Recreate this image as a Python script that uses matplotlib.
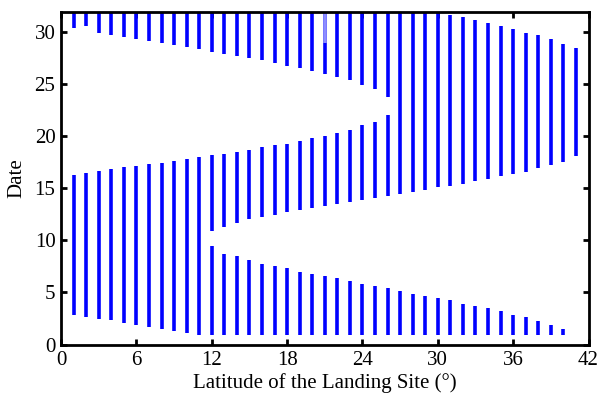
import numpy as np
import matplotlib.pyplot as plt

plt.rcParams['font.family'] = ['Liberation Serif', 'DejaVu Serif']

lat = np.arange(1, 42)

# upper window: runs from top_hi down to top_lo (lat 1..26 separate from middle)
top_hi_a = 32.0
top_lo_a = [30.42, 30.64, 29.94, 29.78, 29.59, 29.39, 29.17, 28.94, 28.75, 28.60,
            28.40, 28.14, 27.95, 27.73, 27.57, 27.34, 27.09, 26.80, 26.60, 26.30,
            25.96, 25.71, 25.42, 24.94, 24.56, 23.82]

# middle window for every latitude (lat 27+ merged with the upper one)
mid_hi = [16.32, 16.48, 16.63, 16.83, 17.02, 17.18, 17.31, 17.44, 17.63, 17.86,
          18.05, 18.17, 18.34, 18.53, 18.72, 18.98, 19.13, 19.30, 19.52, 19.88,
          20.07, 20.33, 20.64, 21.06, 21.38, 22.09, 32.00, 32.00, 32.00, 32.00,
          31.67, 31.44, 31.15, 30.87, 30.64, 30.36, 29.97, 29.71, 29.33, 28.88,
          28.50]
mid_lo = [2.83, 2.66, 2.50, 2.31, 2.09, 1.89, 1.70, 1.51, 1.32, 1.12,
          0.90, 10.93, 11.29, 11.70, 12.02, 12.21, 12.47, 12.69, 12.92, 13.11,
          13.30, 13.50, 13.72, 13.91, 14.10, 14.30, 14.49, 14.68, 14.88, 15.10,
          15.27, 15.46, 15.69, 15.93, 16.17, 16.37, 16.62, 16.96, 17.25, 17.50,
          18.08]

# lower window, from lat 12 to 40
low_lat = np.arange(12, 41)
low_hi = [9.42, 8.72, 8.46, 8.11, 7.76, 7.54, 7.31, 6.99, 6.77, 6.54,
          6.35, 6.06, 5.81, 5.62, 5.42, 5.19, 4.90, 4.68, 4.49, 4.27,
          3.94, 3.72, 3.50, 3.21, 2.83, 2.60, 2.28, 1.83, 1.51]
low_lo = 0.9

# faint overlap at lat 21
faint_lat = 21
faint_range = (29.0, 32.0)

fig = plt.figure(figsize=(6.09, 3.97), dpi=100)
ax = fig.add_axes([0.1002, 0.1322, 0.8662, 0.8388])

blue = '#0000ff'
lw = 2.6
ax.vlines(lat[:len(top_lo_a)], top_lo_a, top_hi_a, color=blue, lw=lw)
ax.vlines(faint_lat, *faint_range, color='#8c8cff', lw=lw)
ax.vlines(lat, mid_lo, mid_hi, color=blue, lw=lw)
ax.vlines(low_lat, low_lo, low_hi, color=blue, lw=lw)

ax.set_xlim(0, 42)
ax.set_ylim(0, 32)
ax.set_xticks(np.arange(0, 43, 6))
ax.set_yticks(np.arange(0, 31, 5))
ax.tick_params(direction='in', top=True, right=True, length=4, width=2,
               labelsize=15)
ax.tick_params(axis='x', pad=5)
ax.tick_params(axis='y', pad=4)
for s in ax.spines.values():
    s.set_linewidth(2)

ax.set_xlabel('Latitude of the Landing Site (°)', fontsize=15, labelpad=2)
ax.set_ylabel('Date', fontsize=15, labelpad=6)

fig.savefig('out.png', dpi=100)
